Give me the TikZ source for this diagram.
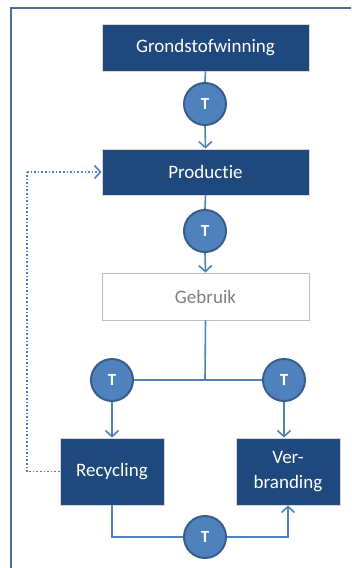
\documentclass[tikz,border=0pt]{standalone}
\usepackage{fontspec}
\setmainfont{Carlito}[Ligatures={NoCommon}]
\usetikzlibrary{arrows.meta}
\definecolor{boxdark}{HTML}{1F497D}
\definecolor{lineblue}{HTML}{4F81BD}
\definecolor{circborder}{HTML}{385D8A}
\definecolor{framecol}{HTML}{4A6C9B}
\definecolor{gebrtext}{HTML}{7F7F7F}
\begin{document}
\begin{tikzpicture}[x=1pt,y=-1pt,
  darkbox/.style={draw=white!85!black, line width=0.8pt, fill=boxdark, text=white, font=\fontsize{19}{24.5}\selectfont, align=center, inner sep=0pt},
  lightbox/.style={draw=black!25, line width=0.8pt, fill=white, text=gebrtext, font=\fontsize{19}{24.5}\selectfont, inner sep=0pt},
  tcirc/.style={circle, draw=circborder, line width=2pt, fill=lineblue, text=white, font=\fontsize{17}{17}\selectfont\bfseries, minimum size=42pt, inner sep=0pt},
  conn/.style={draw=lineblue, line width=1.6pt},
  arr/.style={conn, -{Straight Barb[length=6pt,width=13pt,line width=1.6pt]}},
  dotconn/.style={draw=lineblue, line width=1.6pt, dotted}
]
\useasboundingbox (0,0) rectangle (351,568);
\clip (0,0) rectangle (351,568);
\draw[framecol, line width=2pt] (11,600) -- (11,8) -- (380,8);

\node[darkbox, minimum width=207pt, minimum height=47pt] (grond) at (205.5,47.5) {Grondstofwinning};
\node[darkbox, minimum width=207pt, minimum height=46pt] (prod) at (205.5,172) {Productie};
\node[lightbox, minimum width=207pt, minimum height=47pt] (gebr) at (205.5,296.5) {Gebruik};
\node[darkbox, minimum width=104pt, minimum height=67pt] (recy) at (112,471.5) {Recycling};
\node[darkbox, minimum width=104pt, minimum height=67pt] (verb) at (288,471.5) {Ver-\\branding};

\node[tcirc] (t1) at (205,104) {T};
\node[tcirc] (t2) at (205,231) {T};
\node[tcirc] (t3) at (112,380) {T};
\node[tcirc] (t4) at (284,380) {T};
\node[tcirc] (t5) at (205,537) {T};

\coordinate (junc) at (205,380);
\coordinate (dl) at (27,471.5);
\coordinate (dt) at (27,172);

\draw[conn] (grond.south) -- (t1.north);
\draw[arr] (t1.south) -- (prod.north);
\draw[conn] (prod.south) -- (t2.north);
\draw[arr] (t2.south) -- (gebr.north);
\draw[conn] (gebr.south) -- (junc);
\draw[conn] (t3.east) -- (t4.west);
\draw[arr] (t3.south) -- (recy.north -| t3.south);
\draw[arr] (t4.south) -- (verb.north -| t4.south);
\draw[conn] (recy.south) |- (t5.west);
\draw[arr] (t5.east) -| (verb.south);
\draw[dotconn] (recy.west) -- (dl) -- (dt);
\draw[dotconn, -{Straight Barb[length=6pt,width=13pt,line width=1.6pt]}] (dt) -- (prod.west);
\end{tikzpicture}
\end{document}
